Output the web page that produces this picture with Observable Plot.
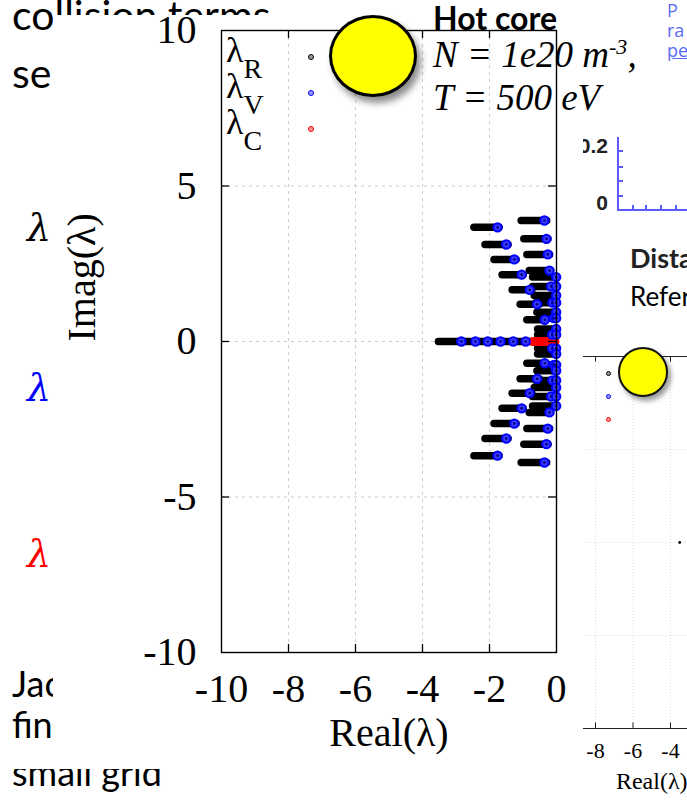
<!DOCTYPE html>
<html><head><meta charset="utf-8">
<script src="https://cdn.jsdelivr.net/npm/d3@7"></script>
<script src="https://cdn.jsdelivr.net/npm/@observablehq/plot@0.6"></script>
<style>
html,body{margin:0;padding:0;background:#fff;}
#page{position:relative;width:687px;height:800px;overflow:hidden;background:#fff;font-family:Lato,"Open Sans",sans-serif;}
.abs{position:absolute;white-space:nowrap;}
.slide{font-family:Lato,sans-serif;font-size:41px;color:#000;line-height:1;}
.slide2{font-family:Lato,sans-serif;font-size:36px;color:#000;line-height:1;}
.serif{font-family:"Liberation Serif",serif;}
#main svg,#small svg{max-width:none;}
</style></head><body><div id="page">

<!-- background slide fragments -->
<div class="abs slide" style="left:12px;top:-6px;">collision terms</div>
<div class="abs slide" style="left:12px;top:52px;">se</div>
<div class="abs" style="left:27px;top:206px;font:italic 38px 'DejaVu Serif',serif;color:#000;">λ</div>
<div class="abs" style="left:27px;top:366px;font:italic 38px 'DejaVu Serif',serif;color:#0000ff;">λ</div>
<div class="abs" style="left:27px;top:532px;font:italic 38px 'DejaVu Serif',serif;color:#ff0000;">λ</div>
<div class="abs slide2" style="left:12px;top:665px;">Jac</div>
<div class="abs slide2" style="left:12px;top:706px;">fini</div>
<div class="abs" style="left:0;top:769px;width:300px;height:31px;overflow:hidden;">
  <div class="abs slide2" style="left:12px;top:-15px;">small grid</div>
</div>

<!-- right fragments -->
<div class="abs" style="left:667px;top:0px;font:18px 'Open Sans',sans-serif;color:#5b6cf2;line-height:20px;">P<br>ra<br><u>pe</u></div>
<div class="abs" style="left:540px;top:134px;width:68px;text-align:right;font:bold 21px 'Liberation Sans',Arial,sans-serif;color:#222;">0.2</div>
<div class="abs" style="left:540px;top:191px;width:68px;text-align:right;font:bold 21px 'Liberation Sans',Arial,sans-serif;color:#222;">0</div>
<div class="abs" style="left:617px;top:137px;width:2px;height:74px;background:#5b5bff;"></div>
<div class="abs" style="left:617px;top:209px;width:80px;height:2px;background:#5b5bff;"></div>
<div id="axticks"></div>
<div class="abs" style="left:630px;top:241px;font:bold 27px Lato,sans-serif;color:#222;">Distance</div>
<div class="abs" style="left:630px;top:280px;font:26px Lato,sans-serif;color:#000;">Reference</div>

<div id="small" class="abs" style="left:520px;top:330px;width:235px;height:470px;"></div>
<div id="smallLegend"></div>
<div class="abs" style="left:618px;top:347px;width:46px;height:46px;border:2.5px solid #111;border-radius:50%;background:#ffff00;box-shadow:3px 4px 5px rgba(0,0,0,0.4);"></div>

<!-- main chart image -->
<div id="main" class="abs" style="left:53px;top:15px;width:530px;height:750px;background:#fff;"></div>
<div id="legend" class="abs serif" style="left:226px;top:32px;font-size:36px;line-height:36px;"></div>
<div class="abs" style="left:329px;top:15px;width:82px;height:76px;border:3px solid #000;border-radius:50%;background:#ffff00;box-shadow:4px 6px 7px rgba(0,0,0,0.45);"></div>
<div class="abs" style="left:433px;top:-2px;font:bold 32px Lato,sans-serif;color:#000;">Hot core</div>
<div class="abs serif" style="left:433px;top:33px;font-size:37px;font-style:italic;">N = 1e20 m<sup style="font-size:22px;">-3</sup>,</div>
<div class="abs serif" style="left:433px;top:76px;font-size:37px;font-style:italic;">T = 500 eV</div>

</div>
<script>
// ---- data ----
const xTicks = [-10, -8, -6, -4, -2, 0];
const yTicks = [-10, -5, 0, 5, 10];
const gridX = [-8, -6, -4, -2];
const gridY = [-5, 0, 5];

// lambda_R : horizontal clusters (imag part, real start, real end)
const barImag  = [3.89, 3.67, 3.30, 3.12, 2.80, 2.64, 2.28, 2.15, 2.07, 1.77, 1.66, 1.48, 1.25, 1.20, 0.94, 0.75, 0.70, 0.40, 0.22, 0,
                  -0.22, -0.40, -0.70, -0.75, -0.94, -1.20, -1.25, -1.48, -1.66, -1.77, -2.07, -2.15, -2.28, -2.64, -2.80, -3.12, -3.30, -3.67, -3.89];
const barStart = [-1.04, -2.45, -0.96, -2.12, -0.87, -1.85, -0.80, -1.61, -0.70, -0.70, -1.31, -0.65, -0.60, -1.07, -0.57, -0.50, -0.87, -0.55, -0.55, -3.51,
                  -0.55, -0.55, -0.87, -0.50, -0.57, -1.07, -0.60, -0.65, -1.31, -0.70, -0.70, -1.61, -0.80, -1.85, -0.87, -2.12, -0.96, -2.45, -1.04];
const barEnd   = [-0.28, -1.70, -0.24, -1.43, -0.19, -1.19, -0.16, -0.98, -0.03, -0.03, -0.72, -0.03, -0.03, -0.50, -0.03, -0.03, -0.30, -0.03, -0.03, -0.03,
                  -0.03, -0.03, -0.30, -0.03, -0.03, -0.50, -0.03, -0.03, -0.72, -0.03, -0.03, -0.98, -0.16, -1.19, -0.19, -1.43, -0.24, -1.70, -0.28];

// lambda_V : blue circles
const vImag = [3.89, 3.67, 3.30, 3.12, 2.80, 2.64, 2.28, 2.15, 2.07, 1.77, 1.77, 1.66, 1.48, 1.25, 1.25, 1.20, 0.94, 0.75, 0.75, 0.70, 0.40, 0.22, 0.22,
               0, 0, 0, 0, 0, 0,
               -0.22, -0.22, -0.40, -0.70, -0.75, -0.75, -0.94, -1.20, -1.25, -1.25, -1.48, -1.66, -1.77, -1.77, -2.07, -2.15, -2.28, -2.64, -2.80, -3.12, -3.30, -3.67, -3.89];
const vReal = [-0.36, -1.76, -0.30, -1.50, -0.26, -1.26, -0.21, -1.04, -0.01, -0.16, -0.01, -0.80, -0.01, -0.12, -0.01, -0.58, -0.01, -0.08, -0.01, -0.35, -0.01, -0.13, -0.01,
               -2.84, -2.42, -2.05, -1.67, -1.29, -0.92,
               -0.13, -0.01, -0.01, -0.35, -0.08, -0.01, -0.01, -0.58, -0.12, -0.01, -0.01, -0.80, -0.16, -0.01, -0.01, -1.04, -0.21, -1.26, -0.26, -1.50, -0.30, -1.76, -0.36];

// lambda_C : red cluster on the real axis
const cImag = [0];
const cStart = [-0.68];
const cEnd = [-0.03];

const legendSub = ["R", "V", "C"];
const legendColor = ["#000000", "#0000ff", "#ff0000"];
const legendFill = ["#9a9a9a", "#9a9aff", "#ff9a9a"];

// ---- tables ----
const bars = barImag.map((y, i) => ({y, x1: barStart[i], x2: barEnd[i]}));
const vPts = vImag.map((y, i) => ({y, x: vReal[i]}));
const cBars = cImag.map((y, i) => ({y, x1: cStart[i], x2: cEnd[i]}));

const tickStyle = {stroke: "black", strokeWidth: 1.3};
const main = Plot.plot({
  width: 530, height: 750,
  marginLeft: 168, marginRight: 27, marginTop: 15, marginBottom: 113,
  x: {domain: [-10, 0]},
  y: {domain: [-10, 10]},
  style: {fontFamily: "'Liberation Serif', serif", fontSize: "40px", background: "white", color: "black"},
  marks: [
    Plot.ruleX(gridX, {stroke: "#cccccc", strokeDasharray: "3,4", strokeWidth: 1}),
    Plot.ruleY(gridY, {stroke: "#cccccc", strokeDasharray: "3,4", strokeWidth: 1}),
    Plot.ruleY(bars, {y: "y", x1: "x1", x2: "x2", stroke: "black", strokeWidth: 7.5, strokeLinecap: "round"}),
    Plot.ruleY(cBars, {y: "y", x1: "x1", x2: "x2", stroke: "#ff0000", strokeWidth: 9, strokeLinecap: "round"}),
    Plot.dot(vPts, {x: "x", y: "y", r: 4.2, stroke: "#0000ff", strokeWidth: 2, fill: "#3a3aff"}),
    Plot.dot(vPts, {x: "x", y: "y", r: 1.3, fill: "#000080"}),
    Plot.frame({stroke: "black", strokeWidth: 1.4}),
    Plot.ruleX(gridX, {y1: -10, y2: -9.74, ...tickStyle}),
    Plot.ruleX(gridX, {y1: 10, y2: 9.74, ...tickStyle}),
    Plot.ruleY(gridY, {x1: -10, x2: -9.76, ...tickStyle}),
    Plot.ruleY(gridY, {x1: 0, x2: -0.24, ...tickStyle}),
    Plot.axisX({ticks: xTicks, tickSize: 0, tickPadding: 21, tickFormat: d => String(d), label: null}),
    Plot.axisY({ticks: yTicks, tickSize: 0, tickPadding: 25, tickFormat: d => String(d), label: null}),
    Plot.text(["Real(λ)"], {text: d => d, frameAnchor: "bottom", dy: 93, fontSize: 40}),
    Plot.text(["Imag(λ)"], {text: d => d, frameAnchor: "left", dx: -139, rotate: -90, fontSize: 40})
  ]
});
document.getElementById("main").appendChild(main);

// legend inside the main plot
const lg = document.getElementById("legend");
legendSub.forEach((s, i) => {
  const row = document.createElement("div");
  row.style.cssText = "position:relative;height:36px;white-space:nowrap;color:#000;";
  row.innerHTML = `λ<span style="position:relative;top:16px;font-size:28px;">${s}</span>` +
    `<span style="position:absolute;left:82px;top:22px;width:4px;height:4px;border:1.3px solid ${legendColor[i]};border-radius:50%;background:${legendFill[i]};"></span>`;
  lg.appendChild(row);
});

// second (partially hidden) plot on the right
const small = Plot.plot({
  width: 235, height: 470,
  marginLeft: 37.5, marginRight: 10, marginTop: 26, marginBottom: 72,
  x: {domain: [-10, 0]},
  y: {domain: [-10, 10]},
  style: {fontFamily: "'Liberation Serif', serif", fontSize: "22px", background: "transparent", color: "black"},
  marks: [
    Plot.ruleX(gridX, {stroke: "#dddddd", strokeDasharray: "1,2"}),
    Plot.ruleY(gridY, {stroke: "#dddddd", strokeDasharray: "1,2"}),
    Plot.dot(bars.filter(d => d.y === 0), {x: "x1", y: "y", r: 1.4, fill: "black"}),
    Plot.frame({stroke: "#222", strokeWidth: 1}),
    Plot.ruleX(gridX, {y1: -10, y2: -9.7, stroke: "#222"}),
    Plot.ruleX(gridX, {y1: 10, y2: 9.7, stroke: "#222"}),
    Plot.axisX({ticks: gridX, tickSize: 0, tickPadding: 14, tickFormat: d => String(d), label: null}),
    Plot.text(["Real(λ)"], {text: d => d, frameAnchor: "bottom", dy: 60, fontSize: 24})
  ]
});
document.getElementById("small").appendChild(small);

const sl = document.getElementById("smallLegend");
legendColor.forEach((c, i) => {
  const d = document.createElement("div");
  d.className = "abs";
  d.style.cssText = `left:606px;top:${371 + i * 23}px;width:3px;height:3px;border:1px solid ${c};border-radius:50%;background:${legendFill[i]};`;
  sl.appendChild(d);
});

// small axis ticks of the blue fragment
const at = document.getElementById("axticks");
[150, 166, 180, 195].forEach(y => {
  const d = document.createElement("div"); d.className = "abs";
  d.style.cssText = `left:619px;top:${y}px;width:4px;height:2px;background:#5b5bff;`; at.appendChild(d);
});
[632, 645, 660, 675].forEach(x => {
  const d = document.createElement("div"); d.className = "abs";
  d.style.cssText = `left:${x}px;top:205px;width:2px;height:4px;background:#5b5bff;`; at.appendChild(d);
});
</script>
</body></html>
